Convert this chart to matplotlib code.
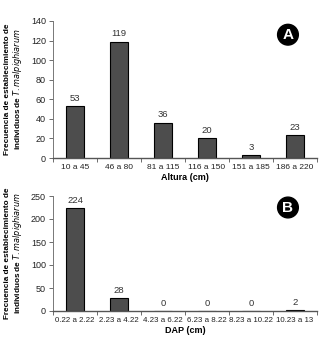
import matplotlib
matplotlib.use("Agg")
import matplotlib.pyplot as plt
import numpy as np

cats_a = ["10 a 45", "46 a 80", "81 a 115", "116 a 150", "151 a 185", "186 a 220"]
vals_a = [53, 119, 36, 20, 3, 23]
cats_b = ["0.22 a 2.22", "2.23 a 4.22", "4.23 a 6.22", "6.23 a 8.22", "8.23 a 10.22", "10.23 a 13"]
vals_b = [224, 28, 0, 0, 0, 2]

W, H = 331, 342
fig = plt.figure(figsize=(W/100, H/100), dpi=100)
plt.rcParams['font.family'] = ['Liberation Sans', 'DejaVu Sans']

def panel(rect, cats, vals, ymax, ystep, xlabel, letter, xfs):
    ax = fig.add_axes(rect)
    x = np.arange(len(cats))
    ax.bar(x, vals, width=0.42, color="#4d4d4d", edgecolor="black", linewidth=0.8)
    for xi, v in zip(x, vals):
        ax.text(xi, v + ymax*0.025, str(v), ha="center", va="bottom", fontsize=6.8, color="#333333")
    ax.set_xlim(-0.5, len(cats)-0.5)
    ax.set_ylim(0, ymax)
    ax.set_yticks(np.arange(0, ymax+1, ystep))
    ax.set_xticks(x)
    ax.set_xticklabels(cats, fontsize=xfs, color="#222222")
    ax.set_xticks(np.arange(-0.5, len(cats)), minor=True)
    ax.tick_params(axis="x", which="major", length=0, pad=4)
    ax.tick_params(axis="x", which="minor", length=3, width=0.6, color="#555555")
    ax.tick_params(axis="y", labelsize=6.5, length=3, width=0.6, color="#555555", labelcolor="#222222", pad=2)
    for s in ["top", "right"]:
        ax.spines[s].set_visible(False)
    ax.spines["left"].set_color("#777777")
    ax.spines["bottom"].set_color("#555555")
    ax.spines["left"].set_linewidth(0.7)
    ax.spines["bottom"].set_linewidth(1.0)
    ax.set_xlabel(xlabel, fontsize=6.5, fontweight="bold", labelpad=2)
    ax.set_ylabel("Frecuencia de establecimiento de\nindividuos de $\\bf{\\it{T. malpighiarum}}$",
                  fontsize=5.9, fontweight="bold", labelpad=5, linespacing=1.0)
    ax.text(0.89, 0.9, letter, transform=ax.transAxes, ha="center", va="center",
            fontsize=11, fontweight="bold", color="white",
            bbox=dict(boxstyle="circle,pad=0.22", fc="black", ec="black"))
    return ax

panel([53/W, 1-158/H, 264/W, 137/H], cats_a, vals_a, 140, 20, "Altura (cm)", "A", 6)
panel([53/W, 1-311/H, 264/W, 115/H], cats_b, vals_b, 250, 50, "DAP (cm)", "B", 5.7)

fig.savefig("out.png", dpi=100, facecolor="white")
